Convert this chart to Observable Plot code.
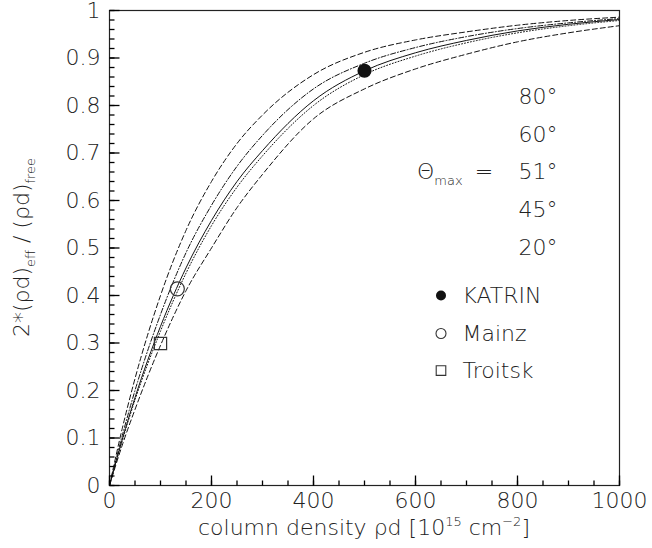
<!DOCTYPE html>
<html><head><meta charset="utf-8">
<script src="https://cdn.jsdelivr.net/npm/d3@7"></script>
<script src="https://cdn.jsdelivr.net/npm/@observablehq/plot@0.6"></script>
<style>
body{margin:0;background:#fff;}
#chart{width:652px;height:548px;}
svg text{font-family:"DejaVu Sans",sans-serif;font-weight:200;}
</style></head><body><div id="chart"></div>
<script>
// column density values (10^15 cm^-2)
const xs = [0, 25, 50, 100, 150, 200, 250, 300, 400, 500, 600, 700, 800, 900, 1000];
// 2*(rho d)_eff/(rho d)_free for each maximum angle
const t80 = [0, 0.12, 0.225, 0.40, 0.537, 0.64, 0.72, 0.78, 0.865, 0.912, 0.938, 0.955, 0.969, 0.979, 0.986];
const t60 = [0, 0.105, 0.20, 0.36, 0.49, 0.59, 0.672, 0.737, 0.835, 0.889, 0.922, 0.945, 0.962, 0.974, 0.983];
const t51 = [0, 0.097, 0.185, 0.335, 0.458, 0.558, 0.64, 0.705, 0.810, 0.873, 0.911, 0.937, 0.957, 0.971, 0.981];
const t45 = [0, 0.094, 0.18, 0.325, 0.447, 0.547, 0.628, 0.694, 0.800, 0.865, 0.904, 0.932, 0.953, 0.968, 0.979];
const t20 = [0, 0.085, 0.16, 0.295, 0.41, 0.50, 0.585, 0.655, 0.772, 0.835, 0.877, 0.908, 0.934, 0.953, 0.968];

const seriesNames = ["80°", "60°", "51°", "45°", "20°"];
const seriesVals = [t80, t60, t51, t45, t20];
const seriesDash = ["5,3", "5,2,1,2", null, "1,2", "5,3"];

// experiments
const expNames = ["KATRIN", "Mainz", "Troitsk"];
const expX = [500, 133, 100];
const expY = [0.873, 0.414, 0.299];

const xMajor = [0, 200, 400, 600, 800, 1000];
const xMinor = d3.range(0, 1001, 50);
const yMajor = [0, 0.1, 0.2, 0.3, 0.4, 0.5, 0.6, 0.7, 0.8, 0.9, 1];
const yMinor = d3.range(0, 51).map(i => i / 50);

// legend positions (data coords)
const legX = 802, legY = [0.817, 0.739, 0.660, 0.580, 0.500];
const expLegX = 650, expLegTextX = 692, expLegY = [0.40, 0.32, 0.242];

const W = 652, H = 548, mL = 109, mR = 33, mT = 10, mB = 63;
const innerW = W - mL - mR, innerH = H - mT - mB;
const xDom = [0, 1000], yDom = [0, 1];
// tick lengths in pixels, converted to data units
const kx = (xDom[1] - xDom[0]) / innerW, ky = (yDom[1] - yDom[0]) / innerH;

const lineMarks = seriesVals.map((vals, k) =>
  Plot.line(xs.map((x, i) => ({x, y: vals[i]})), {
    x: "x", y: "y", curve: "monotone-x", stroke: "#111", strokeWidth: 1,
    strokeDasharray: seriesDash[k]
  })
);

const fs = 22;
const tickStyle = {stroke: "#000", strokeWidth: 1.3};
const plot = Plot.plot({
  width: W, height: H,
  marginLeft: mL, marginRight: mR, marginTop: mT, marginBottom: mB,
  style: {fontFamily: "DejaVu Sans", fontSize: fs + "px", color: "#222", background: "#fff"},
  x: {domain: xDom},
  y: {domain: yDom},
  marks: [
    ...lineMarks,
    Plot.frame({stroke: "#222", strokeWidth: 1.2}),
    Plot.axisX(xMajor, {tickSize: 0, tickPadding: 7, fontSize: fs, label: null, tickFormat: d => String(d)}),
    Plot.axisY(yMajor, {tickSize: 0, tickPadding: 9, fontSize: fs, label: null, tickFormat: d => String(+d.toFixed(1))}),
    // data points
    Plot.dot([0], {x: () => expX[0], y: () => expY[0], r: 6.3, fill: "#111", stroke: "#111"}),
    Plot.dot([0], {x: () => expX[1], y: () => expY[1], r: 7, fill: "none", stroke: "#333", strokeWidth: 1.2}),
    Plot.dot([0], {x: () => expX[2], y: () => expY[2], r: 6.9, symbol: "square", fill: "none", stroke: "#333", strokeWidth: 1.2}),
    // legend: angles
    Plot.text(seriesNames, {x: () => legX, y: (d, i) => legY[i], text: d => d, textAnchor: "start", fontSize: fs, fill: "#222"}),
    // legend: experiments
    Plot.dot([0], {x: () => expLegX, y: () => expLegY[0], r: 5, fill: "#111"}),
    Plot.dot([0], {x: () => expLegX, y: () => expLegY[1], r: 5, fill: "none", stroke: "#333", strokeWidth: 1.1}),
    Plot.dot([0], {x: () => expLegX, y: () => expLegY[2], r: 5.4, symbol: "square", fill: "none", stroke: "#333", strokeWidth: 1.1}),
    Plot.text(expNames, {x: () => expLegTextX, y: (d, i) => expLegY[i], text: d => d, textAnchor: "start", fontSize: fs, fill: "#222"}),
    // inward ticks (drawn last)
    Plot.link(xMinor, {x1: d => d, x2: d => d, y1: () => yDom[0], y2: () => yDom[0] + 5 * ky, ...tickStyle}),
    Plot.link(xMajor, {x1: d => d, x2: d => d, y1: () => yDom[0], y2: () => yDom[0] + 10 * ky, ...tickStyle}),
    Plot.link(yMinor, {y1: d => d, y2: d => d, x1: () => xDom[0], x2: () => xDom[0] + 5 * kx, ...tickStyle}),
    Plot.link(yMajor, {y1: d => d, y2: d => d, x1: () => xDom[0], x2: () => xDom[0] + 10 * kx, ...tickStyle})
  ]
});

const svg = d3.select(plot);
const sx = plot.scale("x"), sy = plot.scale("y");

// Theta_max =
const th = svg.append("text")
  .attr("x", sx.apply(604)).attr("y", sy.apply(0.660)).attr("dy", "0.35em")
  .attr("text-anchor", "start")
  .attr("font-size", fs).attr("fill", "#222");
th.append("tspan").text("Θ");
th.append("tspan").attr("font-size", 13).attr("dy", 6).text("max");
th.append("tspan").attr("dy", -6).attr("dx", 12).text("=");

// x-axis title
const xt = svg.append("text")
  .attr("x", sx.apply(500)).attr("y", 535)
  .attr("text-anchor", "middle").attr("font-size", fs).attr("fill", "#222");
xt.append("tspan").text("column density ρd [10");
xt.append("tspan").attr("font-size", 13).attr("dy", -9).text("15");
xt.append("tspan").attr("dy", 9).text(" cm");
xt.append("tspan").attr("font-size", 13).attr("dy", -9).text("−2");
xt.append("tspan").attr("dy", 9).text("]");

// y-axis title
const cy = (sy.apply(0) + sy.apply(1)) / 2;
const yt = svg.append("text")
  .attr("transform", `translate(29,${cy}) rotate(-90)`)
  .attr("text-anchor", "middle").attr("font-size", fs).attr("fill", "#222");
yt.append("tspan").text("2*(ρd)");
yt.append("tspan").attr("font-size", 13).attr("dy", 6).text("eff");
yt.append("tspan").attr("dy", -6).text(" / (ρd)");
yt.append("tspan").attr("font-size", 13).attr("dy", 6).text("free");

document.getElementById("chart").appendChild(plot);
</script>
</body></html>
